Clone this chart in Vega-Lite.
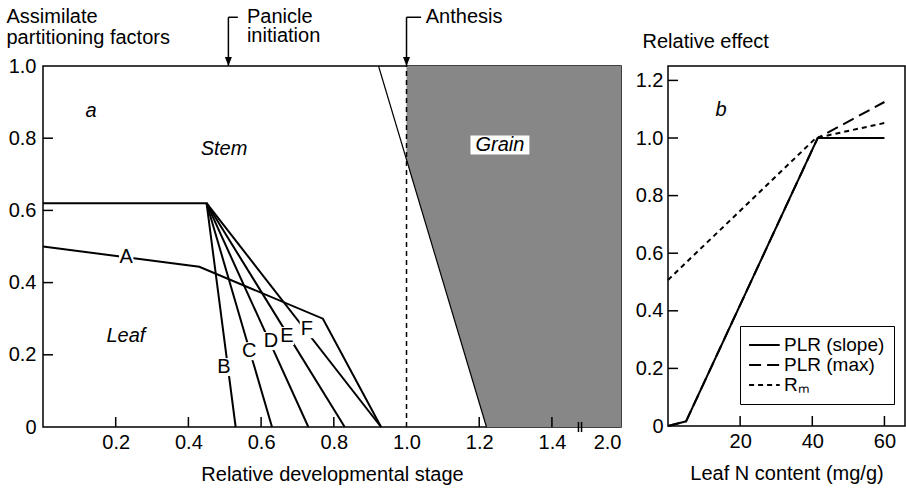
{
  "$schema": "https://vega.github.io/schema/vega-lite/v6.json",
  "padding": {"left": 5, "top": 5, "right": 0, "bottom": 0},
  "bounds": "flush",
  "spacing": 47,
  "config": {
    "font": "Liberation Sans",
    "view": {"stroke": "black", "strokeWidth": 1.5},
    "axis": {
      "grid": false,
      "domain": false,
      "ticks": false,
      "labelColor": "black",
      "titleColor": "black",
      "labelFont": "Liberation Sans",
      "titleFont": "Liberation Sans",
      "labelFontSize": 20,
      "titleFontSize": 20,
      "titleFontWeight": "normal"
    },
    "text": {"font": "Liberation Sans", "fontSize": 20, "color": "black"}
  },
  "datasets": {
    "linesA": [
      {"series": "A", "x": 0, "y": 0.5},
      {"series": "A", "x": 0.43, "y": 0.444},
      {"series": "A", "x": 0.77, "y": 0.3},
      {"series": "A", "x": 0.93, "y": 0},
      {"series": "B", "x": 0, "y": 0.62},
      {"series": "B", "x": 0.45, "y": 0.62},
      {"series": "B", "x": 0.53, "y": 0},
      {"series": "C", "x": 0.45, "y": 0.62},
      {"series": "C", "x": 0.63, "y": 0},
      {"series": "D", "x": 0.45, "y": 0.62},
      {"series": "D", "x": 0.73, "y": 0},
      {"series": "E", "x": 0.45, "y": 0.62},
      {"series": "E", "x": 0.83, "y": 0},
      {"series": "F", "x": 0.45, "y": 0.62},
      {"series": "F", "x": 0.93, "y": 0},
      {"series": "G", "x": 0.923, "y": 1.0},
      {"series": "G", "x": 1.22, "y": 0}
    ],
    "grain": [
      {"x": 1.0, "y": 0.741, "y2": 1.0},
      {"x": 1.22, "y": 0, "y2": 1.0},
      {"x": 2.0, "y": 0, "y2": 1.0}
    ],
    "letters": [
      {"text": "A", "x": 0.229, "y": 0.471},
      {"text": "B", "x": 0.498, "y": 0.166},
      {"text": "C", "x": 0.567, "y": 0.21},
      {"text": "D", "x": 0.627, "y": 0.238},
      {"text": "E", "x": 0.671, "y": 0.252},
      {"text": "F", "x": 0.726, "y": 0.271}
    ],
    "regions": [
      {"text": "a", "x": 0.132, "y": 0.875},
      {"text": "Stem", "x": 0.498, "y": 0.77},
      {"text": "Leaf", "x": 0.228, "y": 0.252},
      {"text": "Grain", "x": 1.257, "y": 0.781}
    ],
    "events": [
      {"event": "Panicle initiation", "x": 0.51, "xe": 0.536, "y": 1.0, "yb": 1.135, "y0": 0},
      {"event": "Anthesis", "x": 1.0, "xe": 1.04, "y": 1.0, "yb": 1.135, "y0": 0}
    ],
    "eventText": [
      {"text": "Panicle", "x": 0.561, "y": 1.137},
      {"text": "initiation", "x": 0.561, "y": 1.082},
      {"text": "Anthesis", "x": 1.053, "y": 1.137}
    ],
    "breakMark": [
      {"x": 1.473, "y": -0.014, "y2": 0.014},
      {"x": 1.487, "y": -0.014, "y2": 0.014}
    ],
    "ticksAx": [
      {"x": 0.2, "y": 0}, {"x": 0.4, "y": 0}, {"x": 0.6, "y": 0},
      {"x": 0.8, "y": 0}, {"x": 1.2, "y": 0}, {"x": 1.4, "y": 0}
    ],
    "ticksAy": [
      {"x": 0, "y": 0.2}, {"x": 0, "y": 0.4}, {"x": 0, "y": 0.6}, {"x": 0, "y": 0.8}
    ],
    "ticksBx": [
      {"x": 20, "y": 0}, {"x": 40, "y": 0}, {"x": 60, "y": 0}
    ],
    "ticksBy": [
      {"x": 0, "y": 0.2}, {"x": 0, "y": 0.4}, {"x": 0, "y": 0.6},
      {"x": 0, "y": 0.8}, {"x": 0, "y": 1.0}, {"x": 0, "y": 1.2}
    ],
    "linesB": [
      {"series": "R_M", "x": 0, "y": 0.507},
      {"series": "R_M", "x": 41, "y": 1.0},
      {"series": "R_M", "x": 60, "y": 1.052},
      {"series": "PLR (max)", "x": 0, "y": 0},
      {"series": "PLR (max)", "x": 5, "y": 0.016},
      {"series": "PLR (max)", "x": 41.5, "y": 1.0},
      {"series": "PLR (max)", "x": 60, "y": 1.125},
      {"series": "PLR (slope)", "x": 0, "y": 0},
      {"series": "PLR (slope)", "x": 5, "y": 0.016},
      {"series": "PLR (slope)", "x": 41.5, "y": 1.0},
      {"series": "PLR (slope)", "x": 60, "y": 1.0}
    ]
  },
  "resolve": {"scale": {"strokeDash": "independent"}, "legend": {"strokeDash": "independent"}},
  "hconcat": [
    {
      "width": 578,
      "height": 361,
      "encoding": {
        "x": {
          "field": "x",
          "type": "quantitative",
          "scale": {"domain": [0, 1.48, 2.0], "range": [0, 538, 578], "zero": false, "nice": false},
          "axis": {
            "values": [0.2, 0.4, 0.6, 0.8, 1.0, 1.2, 1.4, 2.0],
            "format": ".1f",
            "labelPadding": 5,
            "titlePadding": 12
          },
          "title": "Relative developmental stage"
        },
        "y": {
          "field": "y",
          "type": "quantitative",
          "scale": {"domain": [0, 1], "nice": false, "zero": false},
          "axis": {
            "values": [0, 0.2, 0.4, 0.6, 0.8, 1.0],
            "labelExpr": "datum.value === 0 ? '0' : format(datum.value, '.1f')",
            "labelPadding": 7,
            "titleAngle": 0,
            "titleAlign": "left",
            "titleBaseline": "top",
            "titleX": -37,
            "titleY": -60,
            "titleLineHeight": 21
          },
          "title": ["Assimilate", "partitioning factors"]
        }
      },
      "layer": [
        {
          "data": {"name": "grain"},
          "mark": {"type": "area", "color": "#878787", "opacity": 1},
          "encoding": {"y2": {"field": "y2"}}
        },
        {
          "data": {"name": "linesA"},
          "mark": {"type": "line", "color": "black"},
          "encoding": {
            "detail": {"field": "series"},
            "strokeWidth": {"condition": {"test": "datum.series === 'G'", "value": 1.2}, "value": 2}
          }
        },
        {
          "data": {"name": "events"},
          "transform": [{"filter": "datum.event === 'Anthesis'"}],
          "mark": {"type": "rule", "color": "black", "strokeWidth": 1.5, "strokeDash": [5, 4]},
          "encoding": {"y": {"field": "y0", "type": "quantitative"}, "y2": {"field": "y"}}
        },
        {
          "data": {"name": "events"},
          "mark": {"type": "rule", "color": "black", "strokeWidth": 1.5},
          "encoding": {"y": {"field": "y", "type": "quantitative"}, "y2": {"field": "yb"}}
        },
        {
          "data": {"name": "events"},
          "mark": {"type": "rule", "color": "black", "strokeWidth": 1.5},
          "encoding": {"x2": {"field": "xe"}, "y": {"field": "yb", "type": "quantitative"}}
        },
        {
          "data": {"name": "events"},
          "mark": {"type": "point", "shape": "M-0.7,-1.8L0.7,-1.8L0,0Z", "filled": true, "color": "black", "opacity": 1, "size": 100},
          "encoding": {"y": {"field": "y", "type": "quantitative"}}
        },
        {
          "data": {"name": "eventText"},
          "mark": {"type": "text", "align": "left", "baseline": "middle"},
          "encoding": {"text": {"field": "text"}}
        },
        {
          "data": {"name": "breakMark"},
          "mark": {"type": "rule", "color": "black", "strokeWidth": 1.5},
          "encoding": {"y2": {"field": "y2"}}
        },
        {
          "data": {"name": "ticksAx"},
          "mark": {"type": "rule", "color": "black", "strokeWidth": 1.5, "y2Offset": -10},
          "encoding": {"y2": {"field": "y"}}
        },
        {
          "data": {"name": "ticksAy"},
          "mark": {"type": "rule", "color": "black", "strokeWidth": 1.5, "x2Offset": 10},
          "encoding": {"x2": {"field": "x"}}
        },
        {
          "data": {"name": "letters"},
          "mark": {"type": "point", "shape": "M-0.8,-1L0.8,-1L0.8,1L-0.8,1Z", "filled": true, "color": "white", "opacity": 1, "size": 324}
        },
        {
          "data": {"name": "letters"},
          "mark": {"type": "text", "align": "center", "baseline": "middle"},
          "encoding": {"text": {"field": "text"}}
        },
        {
          "data": {"name": "regions"},
          "transform": [{"filter": "datum.text === 'Grain'"}],
          "mark": {"type": "point", "shape": "M-3.1,-1L3.1,-1L3.1,1L-3.1,1Z", "filled": true, "color": "white", "opacity": 1, "size": 361}
        },
        {
          "data": {"name": "regions"},
          "mark": {"type": "text", "align": "center", "baseline": "middle", "fontStyle": "italic"},
          "encoding": {"text": {"field": "text"}}
        }
      ]
    },
    {
      "width": 237,
      "height": 360,
      "encoding": {
        "x": {
          "field": "x",
          "type": "quantitative",
          "scale": {"domain": [0, 65.7], "nice": false, "zero": false},
          "axis": {"values": [20, 40, 60], "labelPadding": 5, "titlePadding": 12},
          "title": "Leaf N content (mg/g)"
        },
        "y": {
          "field": "y",
          "type": "quantitative",
          "scale": {"domain": [0, 1.25], "nice": false, "zero": false},
          "axis": {
            "values": [0, 0.2, 0.4, 0.6, 0.8, 1.0, 1.2],
            "labelExpr": "datum.value === 0 ? '0' : format(datum.value, '.1f')",
            "labelPadding": 5,
            "titleAngle": 0,
            "titleAlign": "left",
            "titleBaseline": "top",
            "titleX": -26,
            "titleY": -35
          },
          "title": "Relative effect"
        }
      },
      "layer": [
        {
          "data": {"name": "ticksBx"},
          "mark": {"type": "rule", "color": "black", "strokeWidth": 1.5, "y2Offset": -10},
          "encoding": {"y2": {"field": "y"}}
        },
        {
          "data": {"name": "ticksBy"},
          "mark": {"type": "rule", "color": "black", "strokeWidth": 1.5, "x2Offset": 10},
          "encoding": {"x2": {"field": "x"}}
        },
        {
          "data": {"name": "linesB"},
          "mark": {"type": "line", "color": "black", "strokeWidth": 2},
          "encoding": {
            "strokeDash": {
              "field": "series",
              "type": "nominal",
              "scale": {"domain": ["PLR (slope)", "PLR (max)", "R_M"], "range": [[1, 0], [12, 6], [5, 4]]},
              "legend": {
                "title": null,
                "orient": "none",
                "legendX": 72,
                "legendY": 260,
                "strokeColor": "black",
                "fillColor": "white",
                "padding": 9,
                "symbolType": "M-1.1,0L2.3,0",
                "symbolSize": 324,
                "symbolStrokeWidth": 2,
                "symbolStrokeColor": "black",
                "symbolFillColor": "transparent",
                "labelFontSize": 19,
                "labelFont": "Liberation Sans",
                "labelColor": "black",
                "labelOffset": 15,
                "rowPadding": 0,
                "labelLimit": 200,
                "labelExpr": "datum.label === 'R_M' ? 'Rₘ' : datum.label"
              }
            }
          }
        },
        {
          "data": {"values": [{"text": "b", "x": 14.7, "y": 1.097}]},
          "mark": {"type": "text", "align": "center", "baseline": "middle", "fontStyle": "italic"},
          "encoding": {"text": {"field": "text"}}
        }
      ]
    }
  ]
}
